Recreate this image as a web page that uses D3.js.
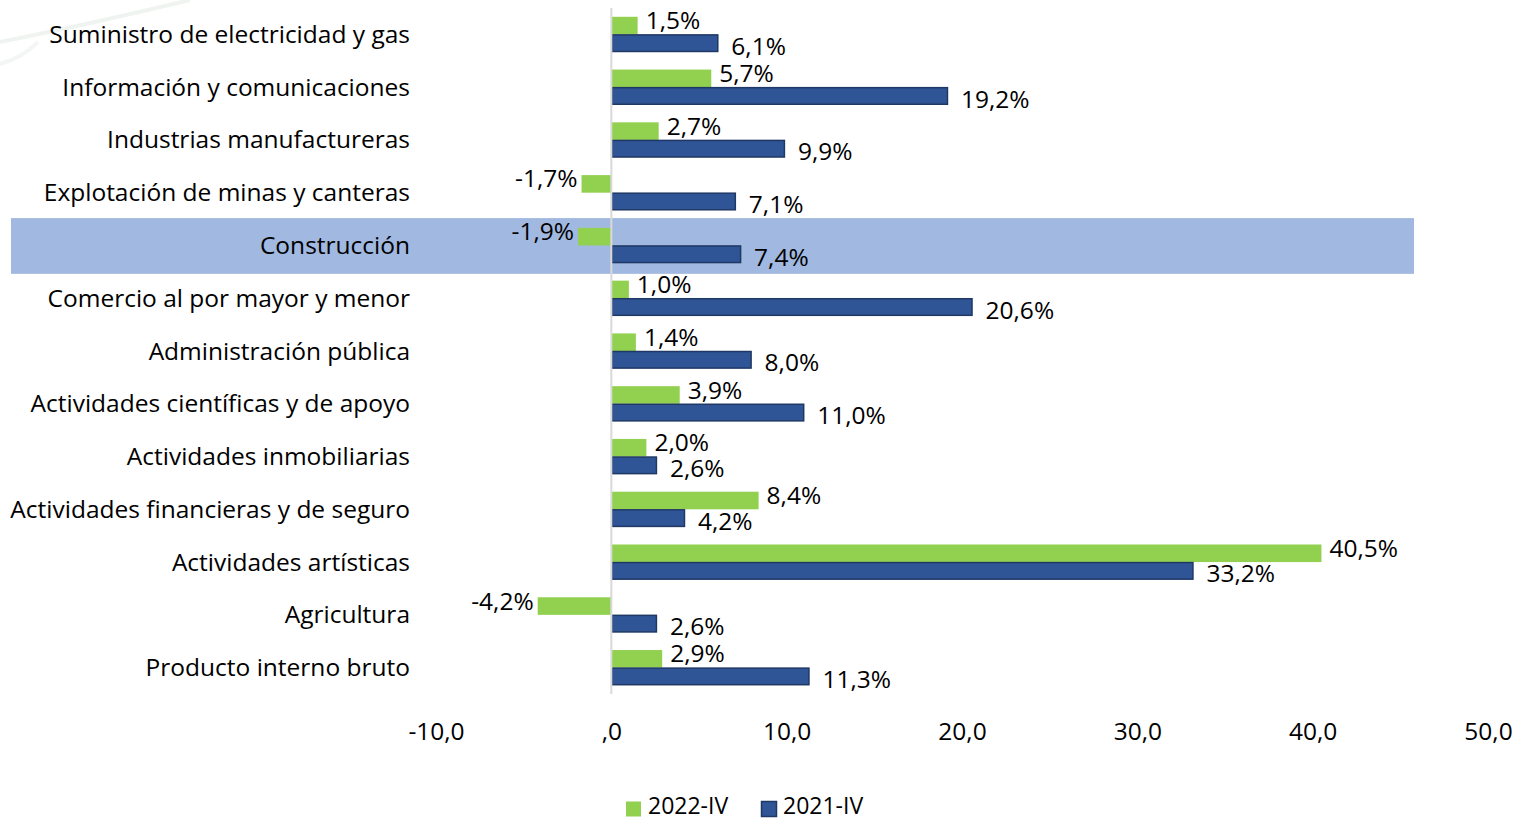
<!DOCTYPE html>
<html>
<head>
<meta charset="utf-8">
<script src="https://cdn.jsdelivr.net/npm/d3@7"></script>
<style>
  body { margin: 0; background: #fff; }
  svg { display: block; font-family: "Open Sans", "Noto Sans", sans-serif; }
</style>
</head>
<body>
<svg id="chart"></svg>
<script>
const categories = [
  "Suministro de electricidad y gas",
  "Información y comunicaciones",
  "Industrias manufactureras",
  "Explotación de minas y canteras",
  "Construcción",
  "Comercio al por mayor y menor",
  "Administración pública",
  "Actividades científicas y de apoyo",
  "Actividades inmobiliarias",
  "Actividades financieras y de seguro",
  "Actividades artísticas",
  "Agricultura",
  "Producto interno bruto"
];
const values2022 = [1.5, 5.7, 2.7, -1.7, -1.9, 1.0, 1.4, 3.9, 2.0, 8.4, 40.5, -4.2, 2.9];
const values2021 = [6.1, 19.2, 9.9, 7.1, 7.4, 20.6, 8.0, 11.0, 2.6, 4.2, 33.2, 2.6, 11.3];
const seriesNames = ["2022-IV", "2021-IV"];
const xTicks = [-10, 0, 10, 20, 30, 40, 50];
const highlighted = "Construcción";

const width = 1519;
const height = 821;
const margin = ({ top: 8, right: 31, bottom: 127, left: 436 });
const catSize = 24.5;
const numSize = 24.5;

const colors = { "2022-IV": "#92d050", "2021-IV": "#2f5597" };

const svg = d3.select("#chart")
  .attr("width", width)
  .attr("height", height);

// scales
const xScale = d3.scaleLinear()
  .domain([-10, 50])
  .range([margin.left, width - margin.right]);

const yScale = d3.scaleBand()
  .domain(categories)
  .range([margin.top, height - margin.bottom])
  .paddingInner(0);

const inner = d3.scaleBand()
  .domain(seriesNames)
  .range([0, yScale.bandwidth()])
  .paddingInner(0)
  .paddingOuter(0.5);

// faint watermark arcs top-left
svg.append("path")
  .attr("d", "M 0,42 Q 90,24 190,0")
  .attr("fill", "none")
  .attr("stroke", "#f0f4f1")
  .attr("stroke-width", 4);
svg.append("path")
  .attr("d", "M 0,64 Q 22,58 38,42")
  .attr("fill", "none")
  .attr("stroke", "#f3f6f4")
  .attr("stroke-width", 4);

// highlight band
svg.append("rect")
  .attr("x", 11)
  .attr("y", yScale(highlighted) - 1)
  .attr("width", 1414 - 11)
  .attr("height", yScale.bandwidth() + 3)
  .attr("fill", "#a1b8e0");

// rows
const rows = categories.map((c, i) => ({ cat: c, v: [values2022[i], values2021[i]] }));

const bars = svg.append("g");
rows.forEach(r => {
  seriesNames.forEach((s, j) => {
    const v = r.v[j];
    const y = yScale(r.cat) + inner(s);
    const x0 = xScale(Math.min(0, v));
    const x1 = xScale(Math.max(0, v));
    bars.append("rect")
      .attr("x", x0 + (j === 1 ? 0.5 : 0))
      .attr("y", y + (j === 1 ? 0.5 : 0))
      .attr("width", x1 - x0 - (j === 1 ? 1 : 0))
      .attr("height", inner.bandwidth() - (j === 1 ? 1 : 0))
      .attr("fill", colors[s])
      .attr("stroke", j === 1 ? "#1f3864" : "none")
      .attr("stroke-width", j === 1 ? 1.5 : 0);
  });
});

// zero axis line
svg.append("line")
  .attr("x1", xScale(0)).attr("x2", xScale(0))
  .attr("y1", margin.top).attr("y2", height - margin.bottom)
  .attr("stroke", "#d9d9d9")
  .attr("stroke-width", 2);

// value labels
const fmt = v => d3.format(".1f")(v).replace(".", ",").replace("−", "-") + "%";
const labels = svg.append("g").attr("font-size", numSize).attr("fill", "#000");
rows.forEach(r => {
  seriesNames.forEach((s, j) => {
    const v = r.v[j];
    const yc = yScale(r.cat) + inner(s) + inner.bandwidth() / 2 + (j === 0 ? -5 : 3);
    const xe = xScale(v);
    labels.append("text")
      .attr("x", v < 0 ? xe - 4 : xe + (j === 0 ? 8 : 13))
      .attr("y", yc)
      .attr("dy", "0.35em")
      .attr("text-anchor", v < 0 ? "end" : "start")
      .text(fmt(v));
  });
});

// category axis labels
svg.append("g")
  .attr("font-size", catSize)
  .selectAll("text")
  .data(categories)
  .join("text")
  .attr("x", 410)
  .attr("y", d => yScale(d) + yScale.bandwidth() / 2)
  .attr("dy", "0.35em")
  .attr("text-anchor", "end")
  .attr("fill", "#000")
  .text(d => d);

// x axis
const xAxis = g => g
  .attr("transform", `translate(0,${height - margin.bottom})`)
  .call(d3.axisBottom(xScale)
    .tickValues(xTicks)
    .tickSize(0)
    .tickPadding(29)
    .tickFormat(d => d === 0 ? ",0" : d3.format(".1f")(d).replace(".", ",").replace("−", "-")))
  .call(g => g.select(".domain").remove())
  .call(g => g.selectAll("text").attr("font-size", numSize).attr("font-family", "'Open Sans', 'Noto Sans', sans-serif").attr("fill", "#000"));

svg.append("g").call(xAxis);

// legend
const legend = svg.append("g").attr("transform", "translate(626,809)");
const legendX = [0, 135];
seriesNames.forEach((s, i) => {
  const g = legend.append("g").attr("transform", `translate(${legendX[i]},0)`);
  g.append("rect")
    .attr("x", i === 1 ? 0.5 : 0).attr("y", -7.5)
    .attr("width", 15).attr("height", 15)
    .attr("fill", colors[s])
    .attr("stroke", i === 1 ? "#1f3864" : "none")
    .attr("stroke-width", 1.5);
  g.append("text")
    .attr("x", 22).attr("y", -3)
    .attr("dy", "0.35em")
    .attr("font-size", 23)
    .attr("fill", "#000")
    .text(s);
});
</script>
</body>
</html>
